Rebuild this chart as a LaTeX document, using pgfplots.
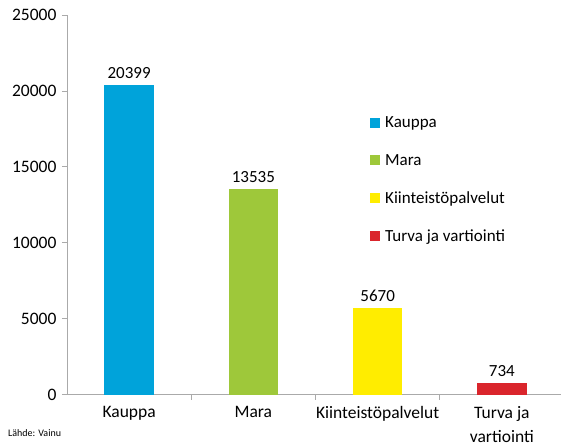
\documentclass[border=0pt]{standalone}
\usepackage{fontspec}
\setmainfont{Carlito}
\usepackage{pgfplots}
\pgfplotsset{compat=1.18}

\definecolor{cKauppa}{RGB}{0,163,218}
\definecolor{cMara}{RGB}{158,200,58}
\definecolor{cKiint}{RGB}{255,237,0}
\definecolor{cTurva}{RGB}{218,37,44}
\definecolor{axisgray}{RGB}{170,170,170}

\begin{document}
\begin{tikzpicture}[x=1pt,y=1pt]
\useasboundingbox (-67,-50.5) rectangle (494,394.5);
\begin{axis}[
    at={(0,0)}, anchor=south west,
    scale only axis,
    width=497pt, height=379.5pt,
    xmin=-0.5, xmax=3.5,
    ymin=0, ymax=25000,
    axis x line*=bottom,
    axis y line*=left,
    axis line style={draw=axisgray, line width=0.8pt},
    ytick={0,5000,...,25000},
    scaled y ticks=false,
    xtick={0,1,2,3},
    xticklabels={Kauppa,Mara,Kiinteistöpalvelut,{Turva ja\\vartiointi}},
    xticklabel style={align=center, font=\fontsize{17.5}{24}\selectfont, yshift=-3pt},
    yticklabel style={font=\fontsize{17.5}{20}\selectfont, xshift=-2pt},
    xtick style={draw=none},
    extra x ticks={0.5,1.5,2.5},
    extra x tick labels={},
    extra x tick style={xtick style={draw=axisgray, line width=0.8pt}},
    ytick style={draw=axisgray, line width=0.8pt},
    tick align=outside,
    major tick length=5pt,
    /pgf/number format/1000 sep={},
    /pgf/number format/assume math mode=true,
    ybar, bar width=0.4, bar shift=0pt,
    nodes near coords,
    every node near coord/.append style={text=black,
        font=\fontsize{17}{20}\selectfont, yshift=3pt},
    legend style={at={(0.6036,0.743)}, anchor=north west, draw=none,
        fill=none, font=\fontsize{17}{20}\selectfont, row sep=21pt,
        nodes={inner xsep=5pt}},
    legend cell align=left,
    legend image code/.code={\fill[#1] (0pt,-5pt) rectangle (10pt,5pt);},
    clip=false
]

\addplot[fill=cKauppa, draw=none] coordinates {(0,20399)};
\addlegendentry{Kauppa}
\addplot[fill=cMara, draw=none] coordinates {(1,13535)};
\addlegendentry{Mara}
\addplot[fill=cKiint, draw=none] coordinates {(2,5670)};
\addlegendentry{Kiinteistöpalvelut}
\addplot[fill=cTurva, draw=none] coordinates {(3,734)};
\addlegendentry{Turva ja vartiointi}

\end{axis}
\node[anchor=west, font=\fontsize{10}{12}\selectfont, inner sep=0pt] at (-59,-38.5) {Lähde: Vainu};
\end{tikzpicture}
\end{document}
